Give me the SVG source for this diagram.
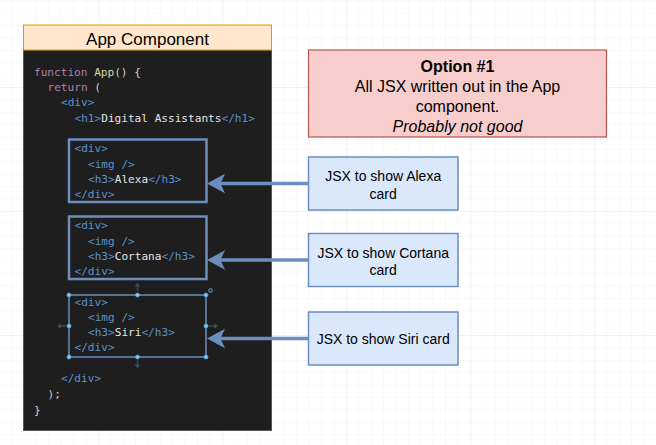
<svg xmlns="http://www.w3.org/2000/svg" width="656" height="445" viewBox="0 0 656 445">
<style>
.code{font-family:"DejaVu Sans Mono","Liberation Mono",monospace;font-size:11.1px}
.kw{fill:#b57eac}.fn{fill:#d8d8a2}.p{fill:#cfcfcf}.tg{fill:#5d92cc}.tx{fill:#e4e4e4}
.sans{font-family:"Liberation Sans",Arial,sans-serif;fill:#000}
.blue{fill:#dae8fc;stroke:#6c8ebf;stroke-width:1.5}
.sel{fill:none;stroke:#6c8ebf;stroke-width:2.5}
.conn{stroke:#6c8ebf;stroke-width:3.5;fill:none}
.hd{fill:#8ec5ee;stroke:#4aa3df;stroke-width:0.8}
.ha{fill:#3b4a55}
</style>
<defs>
<pattern id="minor" width="12.4" height="12.4" patternUnits="userSpaceOnUse" x="11.1" y="0.2">
<path d="M0 0H12.4M0 0V12.4" stroke="#f3f3f3" stroke-width="1" fill="none"/>
</pattern>
<pattern id="major" width="124" height="124" patternUnits="userSpaceOnUse" x="98.3" y="87">
<path d="M0 0H124M0 0V124" stroke="#e9e9e9" stroke-width="1" fill="none"/>
</pattern>
<marker id="arr" markerWidth="20" markerHeight="20" viewBox="0 0 20 20" refX="11" refY="10" orient="auto" markerUnits="userSpaceOnUse">
<path d="M19 10 L1 0.3 L5.5 10 L1 19.7 Z" fill="#6c8ebf"/>
</marker>
</defs>
<rect width="656" height="445" fill="#ffffff"/>
<rect width="656" height="445" fill="url(#minor)"/>
<rect width="656" height="445" fill="url(#major)"/>

<g id="app-component">
<rect x="23.5" y="50" width="248" height="380.5" fill="#1e1e1e" stroke="#555" stroke-width="1"/>
<rect x="23.5" y="25" width="248" height="25" fill="#ffe6cc" stroke="#d79b00" stroke-width="1"/>
<text class="sans" x="147.5" y="45" font-size="17" text-anchor="middle">App Component</text>
<text class="code" x="34" y="75.5"><tspan class="kw">function</tspan><tspan class="p"> </tspan><tspan class="fn">App</tspan><tspan class="p">() {</tspan></text>
<text class="code" x="47.5" y="91"><tspan class="kw">return</tspan><tspan class="p"> (</tspan></text>
<text class="code tg" x="61" y="106">&lt;div&gt;</text>
<text class="code" x="74.5" y="121.5"><tspan class="tg">&lt;h1&gt;</tspan><tspan class="tx">Digital Assistants</tspan><tspan class="tg">&lt;/h1&gt;</tspan></text>
<text class="code tg" x="61" y="382">&lt;/div&gt;</text>
<text class="code p" x="47.5" y="398">);</text>
<text class="code p" x="34" y="413.5">}</text>
</g>

<g id="alexa-block">
<rect x="69" y="139.5" width="137.5" height="62.5" class="sel"/>
<text class="code tg" x="74.5" y="152">&lt;div&gt;</text>
<text class="code tg" x="88" y="167.5">&lt;img /&gt;</text>
<text class="code" x="88" y="183"><tspan class="tg">&lt;h3&gt;</tspan><tspan class="tx">Alexa</tspan><tspan class="tg">&lt;/h3&gt;</tspan></text>
<text class="code tg" x="74.5" y="198">&lt;/div&gt;</text>
</g>

<g id="cortana-block">
<rect x="69" y="216.5" width="137.5" height="62.5" class="sel"/>
<text class="code tg" x="74.5" y="229">&lt;div&gt;</text>
<text class="code tg" x="88" y="244.5">&lt;img /&gt;</text>
<text class="code" x="88" y="260"><tspan class="tg">&lt;h3&gt;</tspan><tspan class="tx">Cortana</tspan><tspan class="tg">&lt;/h3&gt;</tspan></text>
<text class="code tg" x="74.5" y="275">&lt;/div&gt;</text>
</g>

<g id="siri-block">
<rect x="69" y="295" width="137" height="62" fill="none" stroke="#6c8ebf" stroke-width="1.5"/>
<text class="code tg" x="74.5" y="305.5">&lt;div&gt;</text>
<text class="code tg" x="88" y="321">&lt;img /&gt;</text>
<text class="code" x="88" y="336"><tspan class="tg">&lt;h3&gt;</tspan><tspan class="tx">Siri</tspan><tspan class="tg">&lt;/h3&gt;</tspan></text>
<text class="code tg" x="74.5" y="351">&lt;/div&gt;</text>
<path class="ha" d="M137.5 282.5 L134.5 286.5 L136.7 286.5 L136.7 291 L138.3 291 L138.3 286.5 L140.5 286.5 Z"/>
<path class="ha" d="M137.5 368.5 L134.5 364.5 L136.7 364.5 L136.7 360 L138.3 360 L138.3 364.5 L140.5 364.5 Z"/>
<path class="ha" d="M57 326 L61 323 L61 325.2 L66 325.2 L66 326.8 L61 326.8 L61 329 Z"/>
<path class="ha" d="M218 326 L214 323 L214 325.2 L209 325.2 L209 326.8 L214 326.8 L214 329 Z"/>
<circle cx="69" cy="295" r="2" class="hd"/>
<circle cx="137.5" cy="295" r="2" class="hd"/>
<circle cx="206" cy="295" r="2" class="hd"/>
<circle cx="69" cy="326" r="2" class="hd"/>
<circle cx="206" cy="326" r="2" class="hd"/>
<circle cx="69" cy="357" r="2" class="hd"/>
<circle cx="137.5" cy="357" r="2" class="hd"/>
<circle cx="206" cy="357" r="2" class="hd"/>
<circle cx="210.5" cy="290.5" r="1.8" fill="none" stroke="#6fb3e6" stroke-width="0.9"/>
</g>

<g id="option-note">
<rect x="308.5" y="50" width="298" height="87" fill="#f8cecc" stroke="#b85450" stroke-width="1.2"/>
<text class="sans" x="457.5" y="71.5" font-size="16" font-weight="bold" text-anchor="middle">Option #1</text>
<text class="sans" x="457.5" y="91.5" font-size="16" text-anchor="middle">All JSX written out in the App</text>
<text class="sans" x="457.5" y="111.5" font-size="16" text-anchor="middle">component.</text>
<text class="sans" x="457.5" y="131.5" font-size="16" font-style="italic" text-anchor="middle">Probably not good</text>
</g>

<g id="alexa-card">
<rect x="308.5" y="157" width="149.5" height="53" class="blue"/>
<text class="sans" x="383.2" y="181" font-size="14" text-anchor="middle">JSX to show Alexa</text>
<text class="sans" x="383.2" y="198.5" font-size="14" text-anchor="middle">card</text>
</g>

<g id="cortana-card">
<rect x="308.5" y="233.5" width="149.5" height="53" class="blue"/>
<text class="sans" x="383.2" y="258" font-size="14" text-anchor="middle">JSX to show Cortana</text>
<text class="sans" x="383.2" y="275" font-size="14" text-anchor="middle">card</text>
</g>

<g id="siri-card">
<rect x="308.5" y="312" width="149.5" height="53" class="blue"/>
<text class="sans" x="383.2" y="343.5" font-size="14" text-anchor="middle">JSX to show Siri card</text>
</g>

<g id="connectors">
<path class="conn" d="M308 183.5 H215" marker-end="url(#arr)"/>
<path class="conn" d="M308 260 H215" marker-end="url(#arr)"/>
<path class="conn" d="M308 338.5 H215" marker-end="url(#arr)"/>
</g>
</svg>
